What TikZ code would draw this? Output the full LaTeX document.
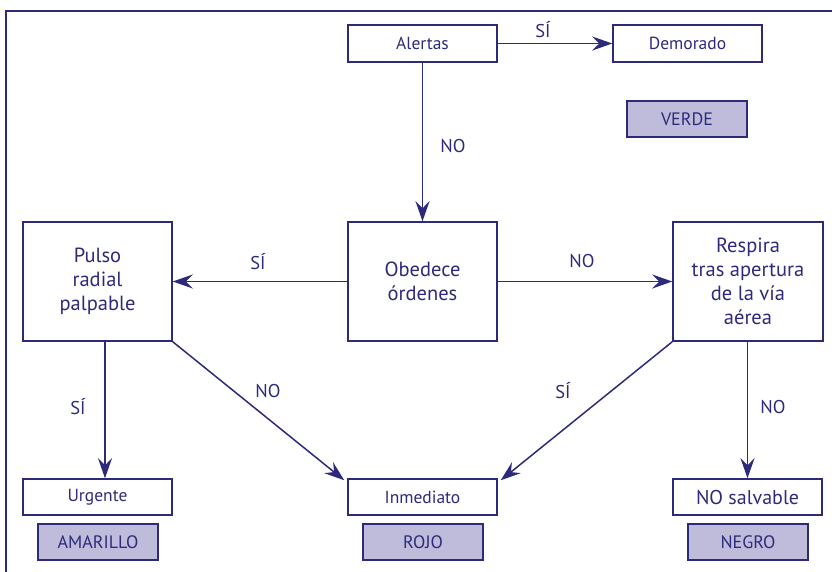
\documentclass[tikz,border=0pt]{standalone}
\usepackage{fontspec}
\setmainfont{PT Sans}
\usetikzlibrary{arrows.meta}
\definecolor{navy}{RGB}{46,42,122}
\definecolor{lav}{RGB}{190,188,218}
\tikzset{
  box/.style={draw=navy, line width=1.5pt, text=navy, align=center, inner sep=0pt, font=\fontsize{17.5}{20}\selectfont},
  bigbox/.style={box, font=\fontsize{20.5}{23.8}\selectfont},
  tag/.style={box, fill=lav, line width=1.7pt, font=\fontsize{18}{20}\selectfont},
  arr/.style={draw=navy, line width=1.5pt, -{Stealth[length=20pt,width=14pt,inset=7pt]}},
  lbl/.style={text=navy, font=\fontsize{18.5}{20}\selectfont}
}
\begin{document}
\begin{tikzpicture}[x=1pt,y=-1pt]
\useasboundingbox (0,0) rectangle (832,571);
\draw[navy, line width=2.8pt] (6,600) -- (6,11) -- (840,11);
\node[box, minimum width=149pt, minimum height=37pt] (alert) at (422.5,43.5) {Alertas};
\node[box, minimum width=149pt, minimum height=37pt] (demor) at (687.5,43.5) {Demorado};
\node[tag, minimum width=120pt, minimum height=36pt] (verde) at (687,119) {VERDE};
\node[bigbox, minimum width=149pt, minimum height=119pt] (obed) at (422.5,281.5) {Obedece\\órdenes};
\node[bigbox, minimum width=149pt, minimum height=119pt] (pulso) at (97.5,281.5) {Pulso\\radial\\palpable};
\node[bigbox, minimum width=150pt, minimum height=119pt] (resp) at (748,281.5) {Respira\\tras apertura\\de la vía\\aérea};
\node[box, minimum width=149pt, minimum height=36pt] (urg) at (97.5,497) {Urgente};
\node[box, minimum width=149pt, minimum height=36pt] (inme) at (422.5,497) {Inmediato};
\node[box, minimum width=149pt, minimum height=36pt, font=\fontsize{20}{22}\selectfont] (nosal) at (747.5,497) {NO salvable};
\node[tag, minimum width=120pt, minimum height=36pt] (amar) at (98,542) {AMARILLO};
\node[tag, minimum width=120pt, minimum height=36pt] (rojo) at (423,542) {ROJO};
\node[tag, minimum width=120pt, minimum height=36pt] (negro) at (748,542) {NEGRO};
\draw[arr] (alert) -- (demor);
\draw[arr] (alert) -- (obed);
\draw[arr] (obed) -- (pulso);
\draw[arr] (obed) -- (resp);
\draw[arr] ([xshift=7.5pt]pulso.south) -- ([xshift=7.5pt]urg.north);
\draw[arr] (pulso.south east) -- ([shift={(-3pt,-2pt)}]inme.north west);
\draw[arr] (resp.south west) -- ([shift={(3pt,-2pt)}]inme.north east);
\draw[arr] ([xshift=-0.5pt]resp.south) -- (nosal.north);
\node[lbl] (l1) at (543,30) {SÍ};
\node[lbl] (l2) at (453,146) {NO};
\node[lbl] (l3) at (258,262) {SÍ};
\node[lbl] (l4) at (582,261) {NO};
\node[lbl] (l5) at (78,407) {SÍ};
\node[lbl] (l6) at (268,391) {NO};
\node[lbl] (l7) at (563,391) {SÍ};
\node[lbl] (l8) at (773,407) {NO};
\end{tikzpicture}
\end{document}
